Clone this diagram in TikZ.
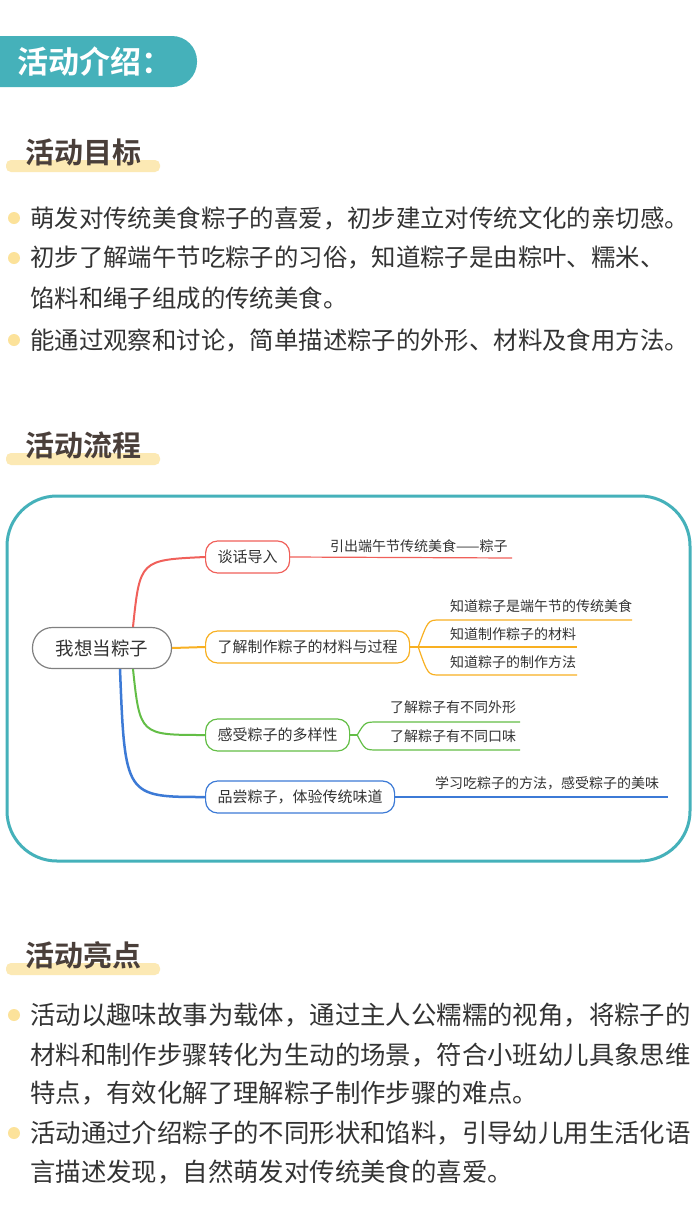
\documentclass[tikz,border=0pt]{standalone}
\usepackage{fontspec}
\setmainfont{Noto Sans CJK SC}
\newfontfamily\cjkbold{Noto Sans CJK SC Bold}
\usetikzlibrary{positioning, calc}
\definecolor{headteal}{HTML}{45B1BA}
\definecolor{barcream}{HTML}{FCE9B4}
\definecolor{titlebrown}{HTML}{4A3F3A}
\definecolor{dotyellow}{HTML}{FCE29A}
\definecolor{bodygray}{HTML}{333333}
\definecolor{mapred}{HTML}{F0605A}
\definecolor{maporange}{HTML}{F8B022}
\definecolor{mapgreen}{HTML}{63BE46}
\definecolor{mapblue}{HTML}{3C7AD6}
\tikzset{
  sectitle/.style={font=\cjkbold\fontsize{29}{32}\selectfont, text=titlebrown, anchor=west, inner sep=0pt},
  bodyline/.style={font=\fontsize{24.4}{27}\selectfont, text=bodygray, anchor=west, inner sep=0pt},
  wideline/.style={font=\fontsize{25.4}{28}\selectfont, text=bodygray, anchor=west, inner sep=0pt},
  mapnode/.style={draw, line width=1.2pt, rounded corners=12pt, minimum height=32pt, inner xsep=12pt,
    font=\fontsize{15}{18}\selectfont, text=bodygray, anchor=west},
  leaftext/.style={font=\fontsize{14}{16}\selectfont, text=bodygray, anchor=west, inner sep=0pt},
}
\begin{document}
\begin{tikzpicture}[x=1pt, y=-1pt]
    \useasboundingbox (0,0) rectangle (700,1226);
    \fill[white] (0,0) rectangle (700,1226);

    % Header
    \fill[headteal, rounded corners=25pt] (-30,36) rectangle (197,87);
    \node[font=\cjkbold\fontsize{31}{34}\selectfont, text=white, anchor=west, inner sep=0pt] (head) at (17,62) {活动介绍：};

    % Section 1
    \fill[barcream, rounded corners=5pt] (6,160) rectangle (160,172);
    \node[sectitle] (goal) at (25,152) {活动目标};
    \foreach \y in {218,258,340} \fill[dotyellow] (14,\y) circle (6);
    \node[bodyline] (g1) at (30,218) {萌发对传统美食粽子的喜爱，初步建立对传统文化的亲切感。};
    \node[bodyline] (g2) at (30,258) {初步了解端午节吃粽子的习俗，知道粽子是由粽叶、糯米、};
    \node[bodyline] (g2b) at (30,298) {馅料和绳子组成的传统美食。};
    \node[bodyline] (g3) at (30,340) {能通过观察和讨论，简单描述粽子的外形、材料及食用方法。};

    % Section 2
    \fill[barcream, rounded corners=5pt] (6,453) rectangle (160,465);
    \node[sectitle] (flow) at (25,445) {活动流程};
    \draw[headteal, line width=3pt, rounded corners=50pt] (7,496) rectangle (690,861);

    % Mind map
    \node[draw=gray, line width=1.2pt, rounded corners=20pt, minimum width=139pt, minimum height=41pt,
      font=\fontsize{18.5}{21}\selectfont, text=bodygray] (root) at (102,648) {我想当粽子};
    \node[mapnode, draw=mapred] (talk) at (205,557) {谈话导入};
    \node[mapnode, draw=maporange] (make) at (205,647) {了解制作粽子的材料与过程};
    \node[mapnode, draw=mapgreen] (feel) at (205,735) {感受粽子的多样性};
    \node[mapnode, draw=mapblue] (taste) at (205,797) {品尝粽子，体验传统味道};

    \draw[mapred, line width=2pt] ($(root.north)+(31,0)$) .. controls (140,560) .. (talk.west);
    \draw[maporange, line width=2pt] (root.east) -- (make.west);
    \draw[mapgreen, line width=2pt] ($(root.south)+(31,0)$) .. controls (140,735) .. (feel.west);
    \draw[mapblue, line width=2.5pt] ($(root.south)+(18,0)$) .. controls (125,797) .. (taste.west);

    % Leaves
    \draw[mapred, line width=1.2pt] (talk.east) -- (512,558) coordinate (l1);
    \node[leaftext] (t1) at (330,546) {引出端午节传统美食——粽子};

    \draw[maporange, line width=1.2pt] (make.east) -- ++(8,0) coordinate (mk);
    \draw[maporange, line width=1.2pt] (mk) .. controls (428,620) .. (440,620) -- (632,620);
    \draw[maporange, line width=1.2pt] (mk) -- (577,647);
    \draw[maporange, line width=1.2pt] (mk) .. controls (428,675) .. (440,675) -- (577,675);
    \node[leaftext] (t2) at (450,606) {知道粽子是端午节的传统美食};
    \node[leaftext] (t3) at (450,634) {知道制作粽子的材料};
    \node[leaftext] (t4) at (450,662) {知道粽子的制作方法};

    \draw[mapgreen, line width=1.2pt] (feel.east) -- ++(7,0) coordinate (fl);
    \draw[mapgreen, line width=1.2pt] (fl) .. controls (365,722) .. (378,722) -- (520,722);
    \draw[mapgreen, line width=1.2pt] (fl) .. controls (365,750) .. (378,750) -- (520,750);
    \node[leaftext] (t5) at (390,707) {了解粽子有不同外形};
    \node[leaftext] (t6) at (390,736) {了解粽子有不同口味};

    \draw[mapblue, line width=1.2pt] (taste.east) -- (668,797);
    \node[leaftext] (t7) at (435,783) {学习吃粽子的方法，感受粽子的美味};

    % Section 3
    \fill[barcream, rounded corners=5pt] (6,963) rectangle (160,975);
    \node[sectitle] (point) at (25,955) {活动亮点};
    \foreach \y in {1015,1133} \fill[dotyellow] (14,\y) circle (6);
    \node[wideline] (p1) at (30,1015) {活动以趣味故事为载体，通过主人公糯糯的视角，将粽子的};
    \node[wideline] (p1b) at (30,1055) {材料和制作步骤转化为生动的场景，符合小班幼儿具象思维};
    \node[wideline] (p1c) at (30,1093) {特点，有效化解了理解粽子制作步骤的难点。};
    \node[wideline] (p2) at (30,1133) {活动通过介绍粽子的不同形状和馅料，引导幼儿用生活化语};
    \node[wideline] (p2b) at (30,1172) {言描述发现，自然萌发对传统美食的喜爱。};
\end{tikzpicture}
\end{document}
